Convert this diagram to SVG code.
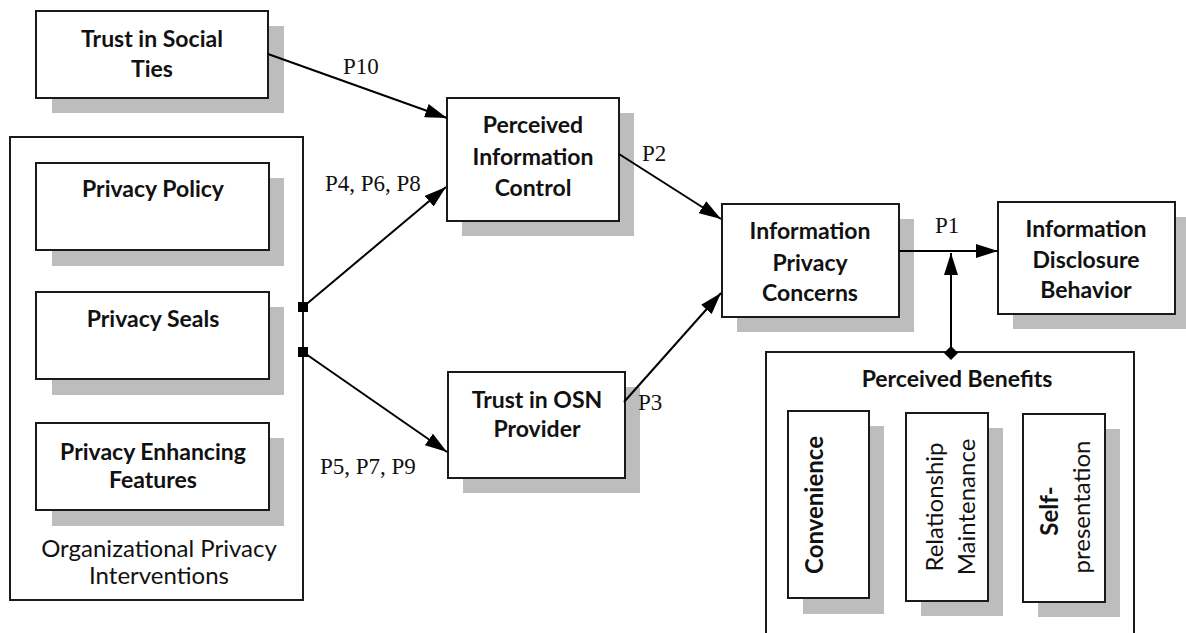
<svg xmlns="http://www.w3.org/2000/svg" width="1186" height="633" viewBox="0 0 1186 633">
<defs>
<marker id="arr" viewBox="0 0 22 14" refX="22" refY="7" markerWidth="22" markerHeight="14" markerUnits="userSpaceOnUse" orient="auto">
<path d="M0,0 L22,7 L0,14 Z" fill="#000"/>
</marker>
<marker id="sq" viewBox="0 0 10 10" refX="5" refY="5" markerWidth="10" markerHeight="10" markerUnits="userSpaceOnUse" orient="0">
<rect x="0" y="0" width="10" height="10" fill="#000"/>
</marker>
<style>
.box{fill:#fff;stroke:#1a1a1a;stroke-width:2}
.sh{fill:#bdbdbd}
.frame{fill:#fff;stroke:#1a1a1a;stroke-width:2}
.t{font-family:Lato,"Liberation Sans",sans-serif;font-weight:bold;font-size:23px;fill:#111;text-anchor:middle}
.r{font-family:Lato,"Liberation Sans",sans-serif;font-size:24px;fill:#111;text-anchor:middle}
.p{font-family:"Liberation Serif","Times New Roman",serif;font-size:23px;fill:#111}
.c{stroke:#000;stroke-width:2;fill:none}
</style>
</defs>
<rect width="1186" height="633" fill="#fff"/>

<g id="org-interventions">
<rect class="frame" x="10" y="137" width="293" height="463"/>
<text class="r" x="159" y="557">Organizational Privacy</text>
<text class="r" x="159" y="584">Interventions</text>
</g>

<g id="perceived-benefits">
<rect class="frame" x="766" y="352" width="368" height="300"/>
<text class="t" x="957" y="387">Perceived Benefits</text>
</g>

<g id="trust-social-ties">
<rect class="sh" x="52" y="26" width="232" height="87"/>
<rect class="box" x="36" y="11" width="232" height="87"/>
<text class="t" x="152" y="47">Trust in Social</text>
<text class="t" x="152" y="77">Ties</text>
</g>

<g id="privacy-policy">
<rect class="sh" x="52" y="178" width="232" height="88"/>
<rect class="box" x="36" y="163" width="233" height="87"/>
<text class="t" x="153" y="197">Privacy Policy</text>
</g>

<g id="privacy-seals">
<rect class="sh" x="52" y="307" width="232" height="88"/>
<rect class="box" x="36" y="292" width="233" height="87"/>
<text class="t" x="153" y="327">Privacy Seals</text>
</g>

<g id="privacy-enhancing">
<rect class="sh" x="52" y="438" width="232" height="88"/>
<rect class="box" x="36" y="423" width="233" height="87"/>
<text class="t" x="153" y="460">Privacy Enhancing</text>
<text class="t" x="153" y="488">Features</text>
</g>

<g id="perceived-info-control">
<rect class="sh" x="462" y="113" width="172" height="123"/>
<rect class="box" x="447" y="98" width="172" height="123"/>
<text class="t" x="533" y="133">Perceived</text>
<text class="t" x="533" y="165">Information</text>
<text class="t" x="533" y="196">Control</text>
</g>

<g id="trust-osn">
<rect class="sh" x="463" y="387" width="177" height="106"/>
<rect class="box" x="448" y="372" width="177" height="106"/>
<text class="t" x="537" y="408">Trust in OSN</text>
<text class="t" x="537" y="437">Provider</text>
</g>

<g id="info-privacy-concerns">
<rect class="sh" x="737" y="219" width="177" height="113"/>
<rect class="box" x="722" y="204" width="177" height="113"/>
<text class="t" x="810" y="239">Information</text>
<text class="t" x="810" y="271">Privacy</text>
<text class="t" x="810" y="301">Concerns</text>
</g>

<g id="info-disclosure">
<rect class="sh" x="1013" y="217" width="177" height="112"/>
<rect class="box" x="998" y="202" width="177" height="112"/>
<text class="t" x="1086" y="237">Information</text>
<text class="t" x="1086" y="268">Disclosure</text>
<text class="t" x="1086" y="298">Behavior</text>
</g>

<g id="convenience">
<rect class="sh" x="803" y="426" width="81" height="188"/>
<rect class="box" x="788" y="411" width="81" height="187"/>
<text class="t" style="font-size:24px" transform="translate(823,505) rotate(-90)" x="0" y="0">Convenience</text>
</g>

<g id="relationship-maintenance">
<rect class="sh" x="921" y="428" width="82" height="188"/>
<rect class="box" x="906" y="413" width="82" height="188"/>
<text class="r" transform="translate(943,507) rotate(-90)" x="0" y="0">Relationship</text>
<text class="r" transform="translate(975,507) rotate(-90)" x="0" y="0">Maintenance</text>
</g>

<g id="self-presentation">
<rect class="sh" x="1038" y="429" width="82" height="188"/>
<rect class="box" x="1023" y="414" width="82" height="188"/>
<text class="t" style="font-size:24px" transform="translate(1058,511) rotate(-90)" x="0" y="0">Self-</text>
<text class="r" transform="translate(1090,507) rotate(-90)" x="0" y="0">presentation</text>
</g>

<g id="connectors">
<line class="c" x1="268" y1="54" x2="447" y2="118" marker-end="url(#arr)"/>
<line class="c" x1="303" y1="307" x2="446" y2="187" marker-start="url(#sq)" marker-end="url(#arr)"/>
<line class="c" x1="303" y1="352" x2="447" y2="452" marker-start="url(#sq)" marker-end="url(#arr)"/>
<line class="c" x1="619" y1="154" x2="721" y2="219" marker-end="url(#arr)"/>
<line class="c" x1="624" y1="402" x2="721" y2="293" marker-end="url(#arr)"/>
<line class="c" x1="899" y1="251" x2="998" y2="251" marker-end="url(#arr)"/>
<line class="c" x1="951" y1="352" x2="951" y2="253" marker-end="url(#arr)"/>
<path d="M951,346 L958,353 L951,360 L944,353 Z" fill="#000"/>
<text class="p" x="343" y="74">P10</text>
<text class="p" x="325" y="191">P4, P6, P8</text>
<text class="p" x="320" y="474">P5, P7, P9</text>
<text class="p" x="642" y="161">P2</text>
<text class="p" x="638" y="410">P3</text>
<text class="p" x="935" y="233">P1</text>
</g>
</svg>
